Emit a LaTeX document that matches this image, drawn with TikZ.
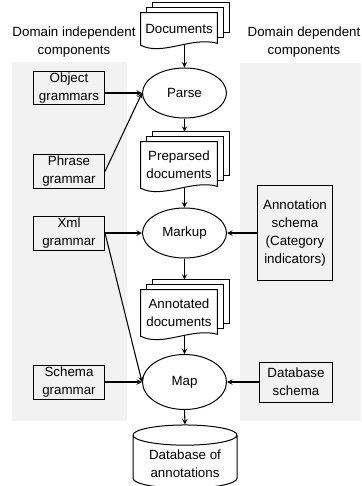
\documentclass[tikz,border=0pt]{standalone}
\usepackage{fontspec}
\setmainfont{Liberation Sans}
\usetikzlibrary{shapes.geometric, arrows, positioning, backgrounds}

% three stacked pages behind a node (the node is the front page)
\newcommand{\pagestack}[1]{%
  \begin{scope}[on background layer]
    \draw[page] ([shift={(12,-10)}]#1.north west) rectangle ([shift={(12,-13)}]#1.south east);
    \draw[page] ([shift={(6,-5)}]#1.north west) rectangle ([shift={(6,-8)}]#1.south east);
    \draw[page] (#1.north west) -- (#1.south west)
      .. controls ([shift={(22,11)}]#1.south west) and ([shift={(-26,-9)}]#1.south east)
      .. ([shift={(0,-2)}]#1.south east) -- (#1.north east) -- cycle;
  \end{scope}
}

\begin{document}
\begin{tikzpicture}[
    x=0.75pt, y=-0.75pt,
    % styles for the boxes, the process ellipses and the arrows
    txt/.style = {font=\fontsize{10}{13.5}\selectfont, align=center},
    box/.style = {txt, rectangle, draw, line width=0.75pt, inner sep=1pt, minimum width=53.25pt, minimum height=25.5pt},
    proc/.style = {txt, ellipse, draw, fill=white, line width=0.75pt, minimum width=63pt, minimum height=37.5pt, inner sep=0pt},
    doc/.style = {txt, rectangle, inner sep=0pt, minimum width=57pt},
    store/.style = {txt, cylinder, shape border rotate=90, aspect=0.25, draw, fill=white, line width=0.75pt, minimum width=78pt, minimum height=38.5pt},
    page/.style = {draw, fill=white, line width=0.75pt},
    panel/.style = {fill=gray!10},
    arrow/.style = {line width=0.8pt, ->, >=stealth}
]
    \useasboundingbox (0,0) rectangle (361,486);

    % 1. Grey panels for the two kinds of components
    \begin{scope}[on background layer]
        \fill[panel] (12,62) rectangle (127,421);
        \fill[panel] (240,63) rectangle (361,421);
    \end{scope}
    \node (indep) [txt] at (74,42) {Domain independent\\components};
    \node (dep)   [txt] at (304,42) {Domain dependent\\components};

    % 2. Main column: documents and processes
    \node (docs)    [doc, minimum height=24pt] at (179,29) {Documents};
    \node (parse)   [proc] at (184.5,93) {Parse};
    \node (prep)    [doc, minimum height=34.5pt] at (179,165) {Preparsed\\documents};
    \node (markup)  [proc] at (184.5,233) {Markup};
    \node (anndocs) [doc, minimum height=34.5pt] at (179,313) {Annotated\\documents};
    \node (map)     [proc, minimum height=41.25pt] at (184.5,382) {Map};
    \node (db)      [store] at (185,464) {Database of\\annotations};
    \pagestack{docs}
    \pagestack{prep}
    \pagestack{anndocs}
    \coordinate (preptop) at ([yshift=7.5pt]prep.north);
    \coordinate (anntop)  at ([yshift=7.5pt]anndocs.north);

    % 3. Side boxes
    \node (objg)      [box, left=27.75pt of parse, yshift=3.75pt, minimum height=22.5pt] {Object\\grammars};
    \node (phrase)    [box, below=36.75pt of objg] {Phrase\\grammar};
    \node (xml)       [box, left=27.75pt of markup] {Xml\\grammar};
    \node (schemag)   [box, left=27.75pt of map] {Schema\\grammar};
    \node (annschema) [box, right=22.5pt of markup, minimum width=56.25pt, minimum height=71.25pt] {Annotation\\schema\\(Category\\indicators)};
    \node (dbschema)  [box, right=24pt of map, minimum width=54.75pt, minimum height=30pt] {Database\\schema};

    % 4. Flow down the main column
    \draw [arrow] (docs.south -| parse.north) -- (parse.north);
    \draw [arrow] (parse.south) -- (parse.south |- preptop);
    \draw [arrow] (prep.south -| markup.north) -- (markup.north);
    \draw [arrow] (markup.south) -- (markup.south |- anntop);
    \draw [arrow] (anndocs.south -| map.north) -- (map.north);
    \draw [arrow] (map.south) -- (db.north);

    % 5. Inputs from the side boxes
    \draw [arrow] (objg.east |- parse.west) -- (parse.west);
    \draw [arrow] (phrase.east) -- (parse.west);
    \draw [arrow] (xml.east) -- (markup.west);
    \draw [arrow] (xml.east) -- (map.west);
    \draw [arrow] (schemag.east) -- (map.west);
    \draw [arrow] (annschema.west) -- (markup.east);
    \draw [arrow] (dbschema.west) -- (map.east);

\end{tikzpicture}
\end{document}
